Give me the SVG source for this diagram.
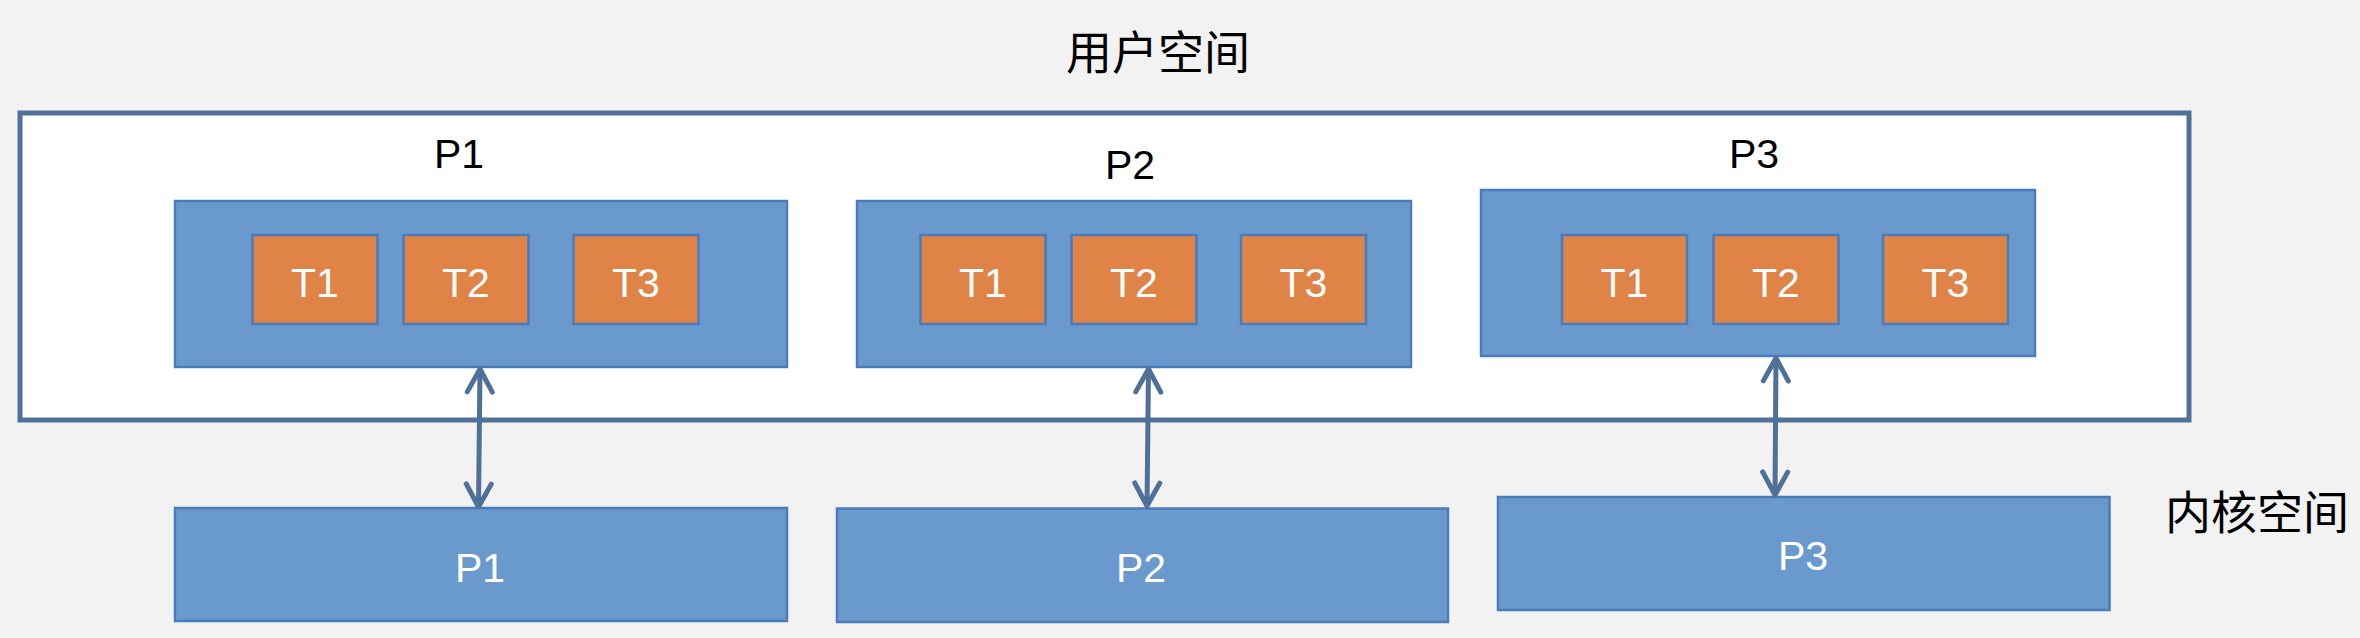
<svg xmlns="http://www.w3.org/2000/svg" width="2360" height="638" viewBox="0 0 2360 638">
<style>
.bg{fill:#F2F2F2}
.outer{fill:#FFFFFF;stroke:#4E7099;stroke-width:5}
.proc{fill:#6A99CE;stroke:#4A7BBA;stroke-width:2.5}
.thr{fill:#DF8346;stroke:#4A7BBA;stroke-width:2.5}
.lbl{font-family:"Liberation Sans",Arial,sans-serif;font-size:41px;text-anchor:middle;fill:#000}
.wlbl{font-family:"Liberation Sans",Arial,sans-serif;font-size:41px;text-anchor:middle;fill:#FFFFFF}
.cjk{font-family:"Noto Sans CJK SC","Noto Sans",sans-serif;font-size:46px;text-anchor:middle;fill:#000}
.conn{stroke:#4E7099;stroke-width:5;fill:none}
</style>
<defs>
<marker id="ah" markerUnits="userSpaceOnUse" markerWidth="40" markerHeight="40" viewBox="-30 -20 40 40" refX="0" refY="0" orient="auto-start-reverse">
<path d="M-23,-12.5 L0,0 L-23,12.5" fill="none" stroke="#4E7099" stroke-width="5" stroke-linecap="round" stroke-linejoin="round"/>
</marker>
</defs>
<rect class="bg" x="0" y="0" width="2360" height="638"/>
<g id="title-user">
<text class="cjk" x="1158" y="69">用户空间</text>
</g>
<g id="user-space">
<rect class="outer" x="20" y="113" width="2169" height="307"/>
</g>
<g id="title-kernel">
<text class="cjk" x="2257" y="529">内核空间</text>
</g>
<g id="user-p1">
<text class="lbl" x="459" y="168">P1</text>
<rect class="proc" x="175" y="201" width="612" height="166"/>
<g id="user-p1-t1"><rect class="thr" x="252.5" y="235" width="125" height="89"/><text class="wlbl" x="315" y="297">T1</text></g>
<g id="user-p1-t2"><rect class="thr" x="403.5" y="235" width="125" height="89"/><text class="wlbl" x="466" y="297">T2</text></g>
<g id="user-p1-t3"><rect class="thr" x="573.5" y="235" width="125" height="89"/><text class="wlbl" x="636" y="297">T3</text></g>
</g>
<g id="user-p2">
<text class="lbl" x="1130" y="179">P2</text>
<rect class="proc" x="857" y="201" width="554" height="166"/>
<g id="user-p2-t1"><rect class="thr" x="920.5" y="235" width="125" height="89"/><text class="wlbl" x="983" y="297">T1</text></g>
<g id="user-p2-t2"><rect class="thr" x="1071.5" y="235" width="125" height="89"/><text class="wlbl" x="1134" y="297">T2</text></g>
<g id="user-p2-t3"><rect class="thr" x="1241" y="235" width="125" height="89"/><text class="wlbl" x="1303.5" y="297">T3</text></g>
</g>
<g id="user-p3">
<text class="lbl" x="1754" y="168">P3</text>
<rect class="proc" x="1481" y="190" width="554" height="166"/>
<g id="user-p3-t1"><rect class="thr" x="1562" y="235" width="125" height="89"/><text class="wlbl" x="1624.5" y="297">T1</text></g>
<g id="user-p3-t2"><rect class="thr" x="1713.5" y="235" width="125" height="89"/><text class="wlbl" x="1776" y="297">T2</text></g>
<g id="user-p3-t3"><rect class="thr" x="1883" y="235" width="125" height="89"/><text class="wlbl" x="1945.5" y="297">T3</text></g>
</g>
<g id="kernel-p1">
<rect class="proc" x="175" y="508" width="612" height="113"/>
<text class="wlbl" x="480" y="582">P1</text>
</g>
<g id="kernel-p2">
<rect class="proc" x="837" y="508.5" width="611" height="113.5"/>
<text class="wlbl" x="1141" y="582">P2</text>
</g>
<g id="kernel-p3">
<rect class="proc" x="1498" y="497" width="611.5" height="113"/>
<text class="wlbl" x="1803" y="570">P3</text>
</g>
<g id="connectors">
<line class="conn" x1="480" y1="369" x2="478.5" y2="507" marker-start="url(#ah)" marker-end="url(#ah)"/>
<line class="conn" x1="1148.5" y1="369" x2="1147" y2="506" marker-start="url(#ah)" marker-end="url(#ah)"/>
<line class="conn" x1="1776" y1="358" x2="1775" y2="495" marker-start="url(#ah)" marker-end="url(#ah)"/>
</g>
</svg>
